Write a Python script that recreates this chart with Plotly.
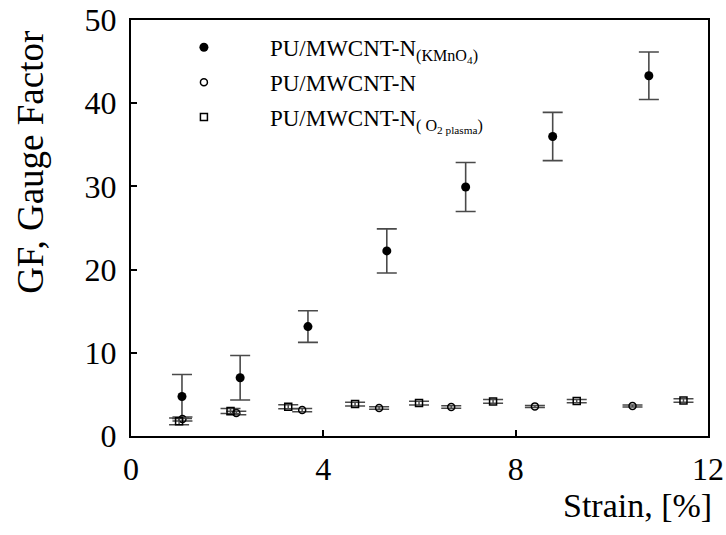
import plotly.graph_objects as go

# KMnO4-treated
strain_kmno4 = [1.06, 2.27, 3.68, 5.32, 6.96, 8.77, 10.77]
gf_kmno4 = [4.75, 7.0, 13.15, 22.25, 29.93, 36.0, 43.3]
err_kmno4 = [2.65, 2.68, 1.9, 2.65, 2.95, 2.9, 2.85]

# untreated
strain_n = [1.07, 2.19, 3.56, 5.16, 6.66, 8.40, 10.43]
gf_n = [2.04, 2.76, 3.12, 3.36, 3.48, 3.56, 3.60]
err_n = [0.25, 0.2, 0.2, 0.15, 0.15, 0.12, 0.12]

# O2 plasma
strain_o2 = [1.0, 2.07, 3.27, 4.66, 5.99, 7.53, 9.27, 11.49]
gf_o2 = [1.76, 3.0, 3.52, 3.84, 3.96, 4.16, 4.2, 4.27]
err_o2 = [0.4, 0.3, 0.25, 0.22, 0.22, 0.22, 0.2, 0.2]

names = [
    "PU/MWCNT-N<sub>(KMnO<sub>4</sub>)</sub>",
    "PU/MWCNT-N",
    "PU/MWCNT-N<sub>( O<sub>2 plasma</sub>)</sub>",
]

FONT = "Liberation Serif"
ERRC = "#4a4a4a"

fig = go.Figure()
fig.add_trace(go.Scatter(
    x=strain_kmno4, y=gf_kmno4, mode="markers", name=names[0], legendgroup="a",
    marker=dict(symbol="circle", size=9, color="black"),
    error_y=dict(type="data", array=err_kmno4, color=ERRC, thickness=1.6, width=10),
))
fig.add_trace(go.Scatter(
    x=strain_n, y=gf_n, mode="markers", name=names[1], legendgroup="b",
    marker=dict(symbol="circle-open", size=7, color="black", line=dict(width=1.5)),
    error_y=dict(type="data", array=err_n, color=ERRC, thickness=1.5, width=10),
))
fig.add_trace(go.Scatter(
    x=strain_o2, y=gf_o2, mode="markers", name=names[2], legendgroup="c",
    marker=dict(symbol="square-open", size=7, color="black", line=dict(width=1.5)),
    error_y=dict(type="data", array=err_o2, color=ERRC, thickness=1.5, width=10),
))

axis_common = dict(
    showline=True, linecolor="black", linewidth=2, mirror=True,
    ticks="inside", ticklen=6, tickwidth=1.5, tickcolor="black",
    showgrid=False, zeroline=False, automargin=False,
    tickfont=dict(family=FONT, size=32, color="black"),
)

fig.update_layout(
    width=726, height=535,
    margin=dict(l=131, r=18, t=20, b=99),
    paper_bgcolor="white", plot_bgcolor="white",
    font=dict(family=FONT, color="black"),
    xaxis=dict(range=[0, 12], dtick=4, tick0=0, ticklabelstandoff=4, **axis_common),
    yaxis=dict(range=[0, 50], dtick=10, tick0=0, ticklabelstandoff=6, **axis_common),
    showlegend=True,
    legend=dict(
        x=0.012, y=0.986, xanchor="left", yanchor="top",
        bgcolor="rgba(0,0,0,0)", borderwidth=0,
        font=dict(family=FONT, size=23, color="black"),
        itemwidth=122, tracegroupgap=2,
    ),
    annotations=[
        dict(text="GF, Gauge Factor", xref="paper", yref="paper",
             x=-0.173, y=0.657, textangle=-90, showarrow=False,
             xanchor="center", yanchor="middle",
             font=dict(family=FONT, size=37, color="black")),
        dict(text="Strain, [%]", xref="paper", yref="paper",
             x=1.01, y=-0.166, showarrow=False,
             xanchor="right", yanchor="middle",
             font=dict(family=FONT, size=34, color="black")),
    ],
)

fig.write_html("out.html", config={"displayModeBar": False},
               post_script="document.body.style.margin='0';")
